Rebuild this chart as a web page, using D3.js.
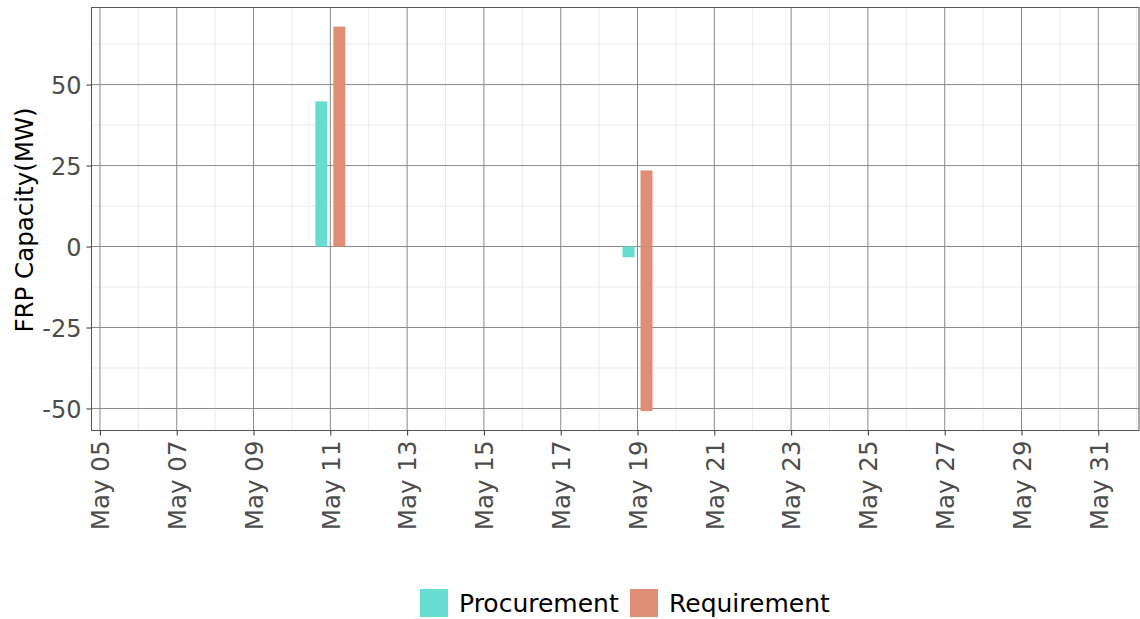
<!DOCTYPE html>
<html>
<head>
<meta charset="utf-8">
<script src="https://cdn.jsdelivr.net/npm/d3@7"></script>
<style>
  html, body { margin: 0; padding: 0; background: #fff; }
  svg { display: block; font-family: "DejaVu Sans", sans-serif; }
</style>
</head>
<body>
<svg id="chart" width="1140" height="619"></svg>
<script>
// ---- data ----
const seriesNames = ["Procurement", "Requirement"];
const seriesColors = ["#66DDD1", "#E18E77"];
const procDates = ["2021-05-11", "2021-05-19"];
const procValues = [44.8, -3.3];
const reqDates = ["2021-05-11", "2021-05-19", "2021-05-19"];
const reqValues = [67.9, 23.5, -50.8];
const yTicks = [-50, -25, 0, 25, 50];
const yMinor = [-37.5, -12.5, 12.5, 37.5, 62.5];
const xTickLabels = ["May 05","May 07","May 09","May 11","May 13","May 15","May 17","May 19","May 21","May 23","May 25","May 27","May 29","May 31"];

(function () {
// ---- layout ----
const svg = d3.select("#chart");
const pLeft = 91.5, pRight = 1139, pTop = 7.5, pBottom = 430.5;
const parse = d3.utcParse("%Y-%m-%d");
const DAY = 86400000;
const d0 = parse("2021-05-05");
const x = d3.scaleUtc()
  .domain([new Date(+d0 - 0.22 * DAY), new Date(+d0 + 27.06 * DAY)])
  .range([pLeft, pRight]);
const y = d3.scaleLinear().domain([-56.8, 73.8]).range([pBottom, pTop]);

const majorDates = xTickLabels.map((s, i) => d3.utcDay.offset(d0, 2 * i));
const minorDates = d3.range(0, 14).map(i => d3.utcDay.offset(d0, 2 * i + 1));

const g = svg.append("g");
// minor grid
g.append("g").selectAll("line").data(yMinor).join("line")
  .attr("x1", pLeft).attr("x2", pRight)
  .attr("y1", d => y(d)).attr("y2", d => y(d))
  .attr("stroke", "#ebebeb").attr("stroke-width", 1);
g.append("g").selectAll("line").data(minorDates.filter(d => x(d) < pRight)).join("line")
  .attr("y1", pTop).attr("y2", pBottom)
  .attr("x1", d => x(d)).attr("x2", d => x(d))
  .attr("stroke", "#ebebeb").attr("stroke-width", 1);
// major grid
g.append("g").selectAll("line").data(yTicks).join("line")
  .attr("x1", pLeft).attr("x2", pRight)
  .attr("y1", d => y(d)).attr("y2", d => y(d))
  .attr("stroke", "#8a8a8a").attr("stroke-width", 1);
g.append("g").selectAll("line").data(majorDates).join("line")
  .attr("y1", pTop).attr("y2", pBottom)
  .attr("x1", d => x(d)).attr("x2", d => x(d))
  .attr("stroke", "#8a8a8a").attr("stroke-width", 1);

// bars (dodged)
const halfW = 0.156 * DAY, off = 0.234 * DAY;
function drawBars(dates, values, color, sign) {
  g.append("g").selectAll("rect").data(dates.map((d, i) => ({ d: parse(d), v: values[i] }))).join("rect")
    .attr("x", d => x(new Date(+d.d + sign * off - halfW)))
    .attr("width", d => x(new Date(+d.d + sign * off + halfW)) - x(new Date(+d.d + sign * off - halfW)))
    .attr("y", d => y(Math.max(0, d.v)))
    .attr("height", d => Math.abs(y(d.v) - y(0)))
    .attr("fill", color);
}
drawBars(procDates, procValues, seriesColors[0], -1);
drawBars(reqDates, reqValues, seriesColors[1], 1);

// panel border
svg.append("rect").attr("x", pLeft).attr("y", pTop)
  .attr("width", pRight - pLeft).attr("height", pBottom - pTop)
  .attr("fill", "none").attr("stroke", "#555").attr("stroke-width", 1);

// y axis
const yAxis = svg.append("g").attr("transform", `translate(${pLeft},0)`)
  .call(d3.axisLeft(y).tickValues(yTicks).tickSize(5).tickPadding(5).tickFormat(d => String(d)));
yAxis.select(".domain").remove();
yAxis.selectAll("line").attr("stroke", "#333");
yAxis.selectAll("text").attr("fill", "#4d4d4d").style("font-size", "24px")
  .style("font-family", "DejaVu Sans").attr("dy", "0.36em");

// x axis
const xAxis = svg.append("g").attr("transform", `translate(0,${pBottom})`)
  .call(d3.axisBottom(x).tickValues(majorDates).tickSize(5)
    .tickFormat((d, i) => xTickLabels[i]));
xAxis.select(".domain").remove();
xAxis.selectAll("line").attr("stroke", "#333");
xAxis.selectAll("text")
  .attr("fill", "#4d4d4d").style("font-size", "24.5px").style("font-family", "DejaVu Sans")
  .attr("text-anchor", "end")
  .attr("transform", "rotate(-90)")
  .attr("x", -10).attr("y", 0).attr("dy", "0.36em");

// y title
svg.append("text")
  .attr("transform", `translate(33,${(pTop + pBottom) / 2 + 1}) rotate(-90)`)
  .attr("text-anchor", "middle")
  .style("font-size", "24.5px").attr("fill", "#000")
  .text("FRP Capacity(MW)");

// legend
const lg = svg.append("g");
const legX = [420, 630];
seriesNames.forEach((n, i) => {
  lg.append("rect").attr("x", legX[i]).attr("y", 589).attr("width", 28).attr("height", 28)
    .attr("fill", seriesColors[i]);
  lg.append("text").attr("x", legX[i] + 39).attr("y", 603).attr("dy", "0.36em")
    .style("font-size", "25px").attr("fill", "#000").text(n);
});
})();
</script>
</body>
</html>
